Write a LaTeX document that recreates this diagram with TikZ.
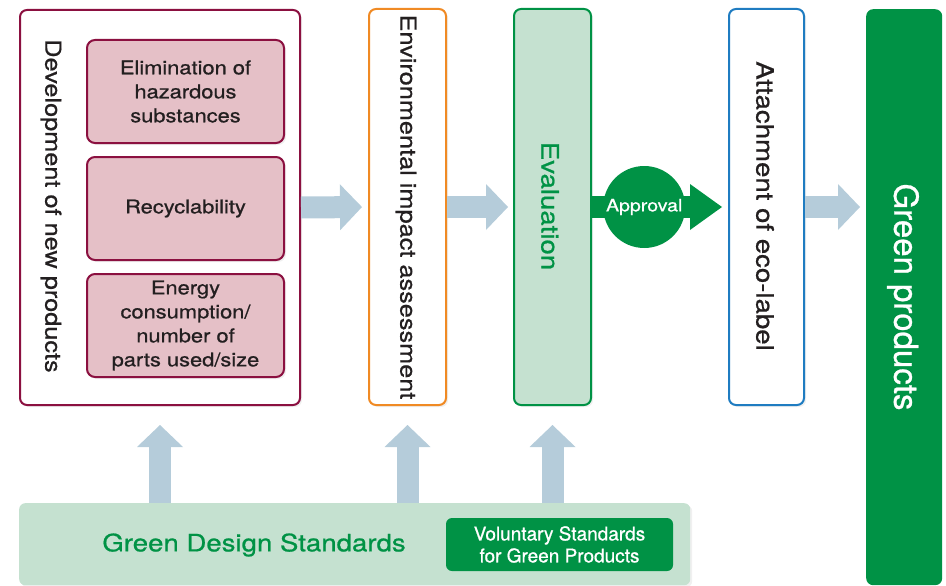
\documentclass[tikz,border=0pt]{standalone}
\usepackage{fontspec}
\setmainfont{TeX Gyre Heros}[FakeStretch=1.15, FakeBold=0.8]
\newfontfamily\plainfont{TeX Gyre Heros}[FakeBold=0.8]
\usepackage{tikz}
\usetikzlibrary{positioning, shapes.geometric, arrows.meta, shadows}

\definecolor{wine}{HTML}{8B1040}
\definecolor{rose}{HTML}{E5C0C7}
\definecolor{tangerine}{HTML}{F08A24}
\definecolor{leaf}{HTML}{009245}
\definecolor{mint}{HTML}{C5E1D0}
\definecolor{ocean}{HTML}{1F7CC1}
\definecolor{haze}{HTML}{B5CCDA}
\definecolor{ink}{HTML}{231F20}

\tikzset{
    stagebox/.style={draw, line width=2pt, rounded corners=7pt, fill=white,
        drop shadow={opacity=0.12, shadow xshift=2pt, shadow yshift=-2pt}},
    itembox/.style={draw=wine, fill=rose, line width=2pt, rounded corners=8pt,
        minimum width=197pt, minimum height=103pt, align=center, text=ink,
        font=\fontsize{19}{24}\selectfont,
        drop shadow={opacity=0.12, shadow xshift=2pt, shadow yshift=-2pt}},
    sidetext/.style={rotate=-90, text=ink, font=\fontsize{22}{26}\selectfont},
    fat/.style={draw=haze, line width=22pt,
        -{Triangle[length=22pt, width=46pt, line width=0pt]}},
}

\begin{document}
\begin{tikzpicture}[x=1pt, y=-1pt]
    \useasboundingbox (0,0) rectangle (946,586);

    % development block
    \node [stagebox, draw=wine, minimum width=280pt, minimum height=395pt, anchor=north west] (dev) at (19, 9) {};
    \node [sidetext] (devtext) at (51, 206) {Development of new products};
    \node [itembox] (haz) at (185.5, 91.5) {Elimination of\\hazardous\\substances};
    \node [itembox, below=12pt of haz] (recyc) {Recyclability};
    \node [itembox, below=12pt of recyc] (energy) {Energy\\consumption/\\number of\\parts used/size};

    % process stages
    \node [stagebox, draw=tangerine, minimum width=77pt, minimum height=396pt, anchor=north west] (env) at (368, 8) {};
    \node [sidetext] (envtext) at (406, 207) {Environmental impact assessment};
    \node [stagebox, draw=leaf, fill=mint, minimum width=77pt, minimum height=396pt, anchor=north west] (eval) at (513, 8) {};
    \node [sidetext, text=leaf, font=\fontsize{24}{28}\selectfont] (evaltext) at (550, 206) {Evaluation};
    \node [stagebox, draw=ocean, minimum width=75pt, minimum height=396pt, anchor=north west] (eco) at (728, 8) {};
    \node [sidetext, font=\fontsize{24}{28}\selectfont] (ecotext) at (765, 206) {Attachment of eco-label};
    \node [fill=leaf, rounded corners=7pt, minimum width=76pt, minimum height=576pt, anchor=north west] (green) at (866, 9) {};
    \node [rotate=-90, text=white, font=\plainfont\fontsize{33}{38}\selectfont] (greentext) at (903, 297) {Green products};

    % standards
    \node [fill=mint, rounded corners=6pt, minimum width=671pt, minimum height=82pt, anchor=north west,
        drop shadow={opacity=0.12, shadow xshift=2pt, shadow yshift=-2pt}] (gds) at (19, 503) {};
    \node [text=leaf, font=\fontsize{24}{28}\selectfont] (gdstext) at (254, 545) {Green Design Standards};
    \node [fill=leaf, rounded corners=6pt, minimum width=227pt, minimum height=53pt, text=white, align=center,
        font=\plainfont\fontsize{19}{22}\selectfont] (vol) at (559.5, 544.5) {Voluntary Standards\\for Green Products};

    % flow
    \draw [fat, shorten >=6pt] (dev.east) -- (env.west);
    \draw [fat, shorten >=5pt] (env.west -| env.east) -- (eval.west);
    \draw [leaf, line width=22pt, -{Triangle[length=32pt, width=46pt, line width=0pt]}, shorten >=6pt] (eval.east) -- (eco.west);
    \node [circle, fill=leaf, minimum size=82pt, inner sep=0pt, text=white, font=\fontsize{17}{20}\selectfont, right=11pt of eval.east] (appr) {Approval};
    \draw [fat, shorten >=6pt] (eco.east) -- (eco.east -| green.west);

    \draw [fat, shorten >=19pt] (gds.north -| dev.south) -- (dev.south);
    \draw [fat, shorten >=19pt] (gds.north -| env.south) -- (env.south);
    \draw [fat, shorten >=19pt] (gds.north -| eval.south) -- (eval.south);
\end{tikzpicture}
\end{document}
